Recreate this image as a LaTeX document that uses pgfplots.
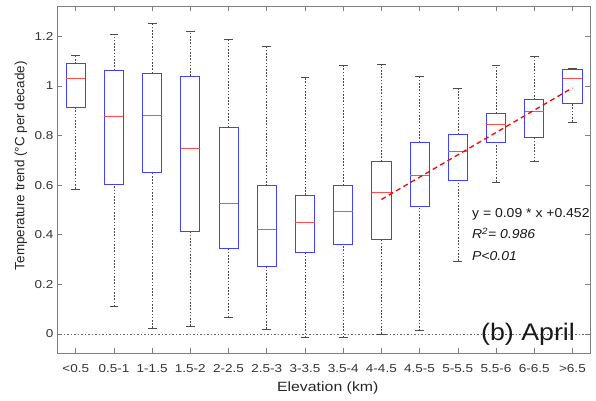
\documentclass[border=0pt]{standalone}
\usepackage{fontspec}
\setmainfont{Liberation Sans}
\newfontfamily\tickfont[FakeStretch=1.18]{Liberation Sans}
\newfontfamily\regfont[FakeStretch=1.08]{Liberation Sans}
\newfontfamily\bigfont[FakeStretch=1.12]{Liberation Sans}
\usepackage{pgfplots}
\pgfplotsset{compat=1.18}
\usepgfplotslibrary{statistics}

\definecolor{boxblue}{rgb}{0.25,0.25,1}
\definecolor{medred}{rgb}{1,0.3,0.3}
\definecolor{axgray}{gray}{0.5}

\pgfplotsset{
  mybox/.style={
    boxplot/draw direction=y,
    boxplot/box extend=0.5,
    boxplot/whisker extend=0.23,
    boxplot/every box/.style={draw=boxblue, line width=0.8bp},
    boxplot/every median/.style={draw=medred, line width=0.8bp},
    boxplot/draw/lower whisker/.code={
      \draw[black!70, line width=0.6bp, dash pattern=on 1.6bp off 1.6bp]
        (boxplot box cs:\pgfplotsboxplotvalue{lower whisker},0.5) -- (boxplot box cs:\pgfplotsboxplotvalue{lower quartile},0.5);
      \draw[black!70, line width=0.6bp]
        (boxplot whisker cs:\pgfplotsboxplotvalue{lower whisker},0) -- (boxplot whisker cs:\pgfplotsboxplotvalue{lower whisker},1);
    },
    boxplot/draw/upper whisker/.code={
      \draw[black!70, line width=0.6bp, dash pattern=on 1.6bp off 1.6bp]
        (boxplot box cs:\pgfplotsboxplotvalue{upper quartile},0.5) -- (boxplot box cs:\pgfplotsboxplotvalue{upper whisker},0.5);
      \draw[black!70, line width=0.6bp]
        (boxplot whisker cs:\pgfplotsboxplotvalue{upper whisker},0) -- (boxplot whisker cs:\pgfplotsboxplotvalue{upper whisker},1);
    },
  }
}

\begin{document}
\begin{tikzpicture}
\begin{axis}[
  name=ax,
  scale only axis,
  width=533bp, height=347.3bp,
  xmin=-0.49, xmax=13.46,
  ymin=-0.078, ymax=1.322,
  clip=false,
  xtick={0,1,2,3,4,5,6,7,8,9,10,11,12,13},
  xticklabels={<0.5,0.5-1,1-1.5,1.5-2,2-2.5,2.5-3,3-3.5,3.5-4,4-4.5,4.5-5,5-5.5,5.5-6,6-6.5,>6.5},
  ytick={0,0.2,0.4,0.6,0.8,1,1.2},
  yticklabels={0,0.2,0.4,0.6,0.8,1,1.2},
  tick align=inside,
  major tick length=5bp,
  axis line style={axgray, line width=0.6bp},
  tick style={axgray, line width=0.6bp},
  /pgf/number format/assume math mode=true,
  ticklabel style={font=\tickfont\fontsize{11.5}{12}\selectfont, text=black!80},
  xticklabel style={anchor=base, yshift=-19.4bp},
  xlabel={Elevation (km)},
  xlabel style={at={(axis description cs:0.508,-0.1106)}, anchor=base, font=\tickfont\fontsize{13.5}{14}\selectfont, text=black!85},
  ylabel={Temperature trend (°C per decade)},
  ylabel style={at={(axis description cs:-0.0675,0.54)}, anchor=center, font=\fontsize{13.5}{14}\selectfont, text=black!85},
]
% zero reference line
\addplot[black!60, line width=0.6bp, dash pattern=on 1.5bp off 2bp] coordinates {(-0.49,0) (13.46,0)};

\addplot[mybox, boxplot prepared={draw position=0, lower whisker=0.585, lower quartile=0.912, median=1.032, upper quartile=1.089, upper whisker=1.124}] coordinates {};
\addplot[mybox, boxplot prepared={draw position=1, lower whisker=0.111, lower quartile=0.601, median=0.877, upper quartile=1.063, upper whisker=1.208}] coordinates {};
\addplot[mybox, boxplot prepared={draw position=2, lower whisker=0.024, lower quartile=0.650, median=0.883, upper quartile=1.051, upper whisker=1.252}] coordinates {};
\addplot[mybox, boxplot prepared={draw position=3, lower whisker=0.032, lower quartile=0.414, median=0.747, upper quartile=1.040, upper whisker=1.220}] coordinates {};
\addplot[mybox, boxplot prepared={draw position=4, lower whisker=0.067, lower quartile=0.345, median=0.528, upper quartile=0.833, upper whisker=1.189}] coordinates {};
\addplot[mybox, boxplot prepared={draw position=5, lower whisker=0.020, lower quartile=0.273, median=0.422, upper quartile=0.597, upper whisker=1.158}] coordinates {};
\addplot[mybox, boxplot prepared={draw position=6, lower whisker=-0.014, lower quartile=0.327, median=0.448, upper quartile=0.560, upper whisker=1.033}] coordinates {};
\addplot[mybox, boxplot prepared={draw position=7, lower whisker=-0.014, lower quartile=0.362, median=0.495, upper quartile=0.600, upper whisker=1.082}] coordinates {};
\addplot[mybox, boxplot prepared={draw position=8, lower whisker=0.000, lower quartile=0.383, median=0.569, upper quartile=0.696, upper whisker=1.086}] coordinates {};
\addplot[mybox, boxplot prepared={draw position=9, lower whisker=0.013, lower quartile=0.513, median=0.640, upper quartile=0.773, upper whisker=1.039}] coordinates {};
\addplot[mybox, boxplot prepared={draw position=10, lower whisker=0.294, lower quartile=0.619, median=0.735, upper quartile=0.805, upper whisker=0.989}] coordinates {};
\addplot[mybox, boxplot prepared={draw position=11, lower whisker=0.613, lower quartile=0.774, median=0.844, upper quartile=0.890, upper whisker=1.082}] coordinates {};
\addplot[mybox, boxplot prepared={draw position=12, lower whisker=0.695, lower quartile=0.792, median=0.899, upper quartile=0.944, upper whisker=1.119}] coordinates {};
\addplot[mybox, boxplot prepared={draw position=13, lower whisker=0.855, lower quartile=0.930, median=1.032, upper quartile=1.065, upper whisker=1.071}] coordinates {};

% regression line y = 0.09 x + 0.452 over 4-4.5 ... >6.5
\addplot[red, line width=1.3bp, dash pattern=on 5bp off 3.5bp] coordinates {(8,0.542) (13,0.992)};

\node[anchor=base west, inner sep=0, font=\regfont\fontsize{13}{13}\selectfont, text=black!90] at (axis cs:10.37,0.4706) {y = 0.09 * x +0.452};
\node[anchor=base west, inner sep=0, font=\regfont\fontsize{13}{13}\selectfont, text=black!90] at (axis cs:10.37,0.383) {\itshape R\textsuperscript{2}= 0.986};
\node[anchor=base west, inner sep=0, font=\regfont\fontsize{13}{13}\selectfont, text=black!90] at (axis cs:10.37,0.298) {\itshape P<0.01};
\node[anchor=base east, inner sep=0, font=\bigfont\fontsize{24}{24}\selectfont, text=black!90] at (axis cs:13.07,-0.028) {(b) April};
\end{axis}
\pgfresetboundingbox
\path ([shift={(-57bp,-47.7bp)}]ax.south west) rectangle ([shift={(6bp,6bp)}]ax.north east);
\end{tikzpicture}
\end{document}
